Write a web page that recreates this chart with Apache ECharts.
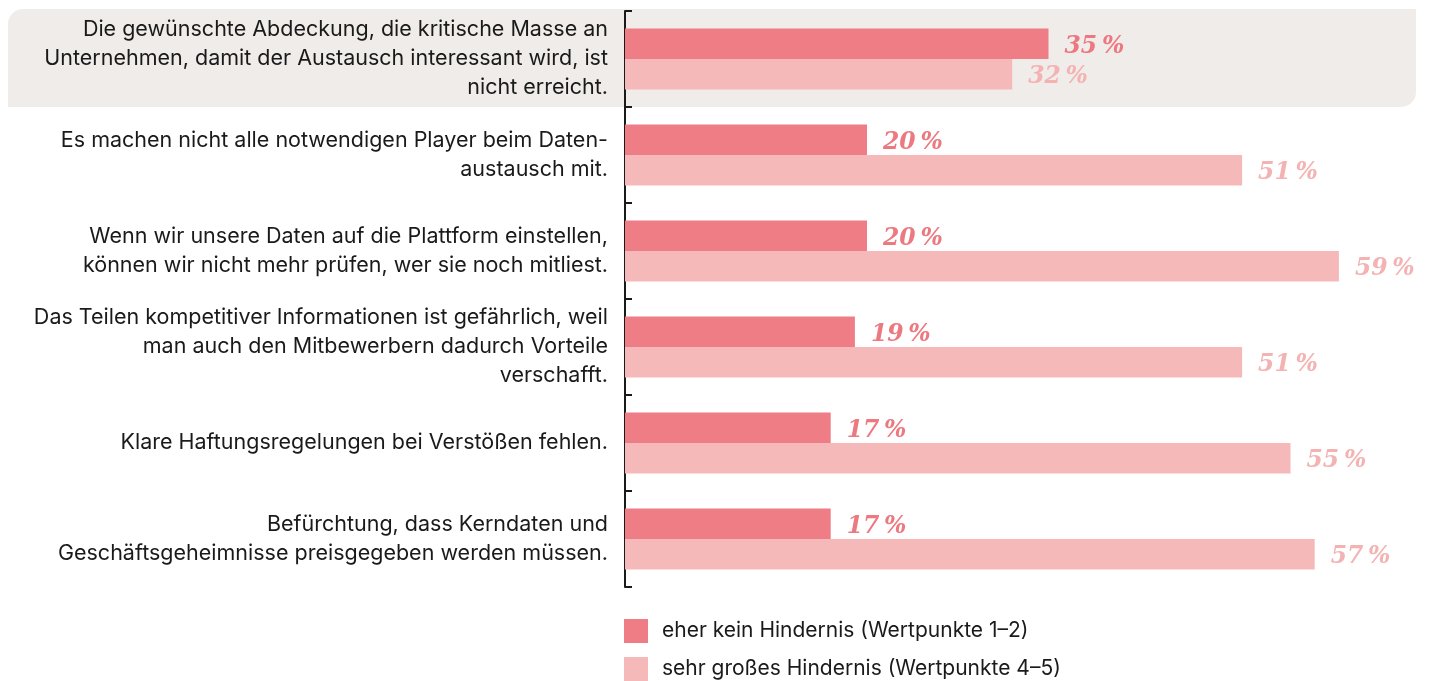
<!DOCTYPE html>
<html>
<head>
<meta charset="utf-8">
<script src="https://cdn.jsdelivr.net/npm/echarts@6/dist/echarts.min.js"></script>
<style>
  html, body { margin: 0; padding: 0; background: #fff; }
  #chart { width: 1432px; height: 681px; }
</style>
</head>
<body>
<div id="chart"></div>
<script>
// Kategorien (mit Zeilenumbrüchen wie im Original)
const categories = [
  'Die gewünschte Abdeckung, die kritische Masse an\nUnternehmen, damit der Austausch interessant wird, ist\nnicht erreicht.',
  'Es machen nicht alle notwendigen Player beim Daten-\naustausch mit.',
  'Wenn wir unsere Daten auf die Plattform einstellen,\nkönnen wir nicht mehr prüfen, wer sie noch mitliest.',
  'Das Teilen kompetitiver Informationen ist gefährlich, weil\nman auch den Mitbewerbern dadurch Vorteile\nverschafft.',
  'Klare Haftungsregelungen bei Verstößen fehlen.',
  'Befürchtung, dass Kerndaten und\nGeschäftsgeheimnisse preisgegeben werden müssen.'
];
const seriesNames = [
  'eher kein Hindernis (Wertpunkte 1–2)',
  'sehr großes Hindernis (Wertpunkte 4–5)'
];
const keinHindernis = [35, 20, 20, 19, 17, 17];
const grossesHindernis = [32, 51, 59, 51, 55, 57];

const chart = echarts.init(document.getElementById('chart'));

const labelStyle = (color) => ({
  show: true,
  position: 'right',
  distance: 16,
  offset: [0, 3],
  formatter: (p) => p.value + '\u2009%',
  fontFamily: 'DejaVu Serif',
  fontStyle: 'italic',
  fontWeight: 'bold',
  fontSize: 23.5,
  color: color
});

const option = {
  animation: false,
  backgroundColor: '#ffffff',
  textStyle: { fontFamily: 'Inter' },
  graphic: [
    {
      type: 'rect',
      z: -10,
      shape: { x: 8, y: 9, width: 1408, height: 98, r: [15, 0, 15, 0] },
      style: { fill: '#f0ece9' }
    }
  ],
  grid: { left: 625, top: 11, width: 786.5, height: 576 },
  legend: {
    orient: 'vertical',
    left: 624,
    top: 619,
    padding: 0,
    itemWidth: 24,
    itemHeight: 24,
    itemGap: 14,
    icon: 'rect',
    data: seriesNames,
    textStyle: {
      fontSize: 21,
      color: '#1a1a1a',
      fontFamily: 'Inter',
      padding: [3, 0, 0, 9]
    }
  },
  xAxis: {
    type: 'value',
    min: 0,
    max: 65,
    show: false
  },
  yAxis: {
    type: 'category',
    inverse: true,
    data: categories,
    axisLine: { show: true, lineStyle: { color: '#1a1a1a', width: 2 } },
    axisTick: { show: true, inside: true, length: 7, lineStyle: { color: '#1a1a1a', width: 2 } },
    axisLabel: {
      margin: 17,
      fontSize: 21.5,
      lineHeight: 29,
      padding: [5, 0, 0, 0],
      color: '#1a1a1a',
      align: 'right',
      fontFamily: 'Inter'
    }
  },
  series: [
    {
      name: seriesNames[0],
      type: 'bar',
      data: keinHindernis,
      barWidth: 30.5,
      barGap: '0%',
      itemStyle: { color: '#ee7d85' },
      label: labelStyle('#ec7880')
    },
    {
      name: seriesNames[1],
      type: 'bar',
      data: grossesHindernis,
      barWidth: 30.5,
      barGap: '0%',
      itemStyle: { color: '#f5b9b9' },
      label: labelStyle('#f4b3b3')
    }
  ]
};

chart.setOption(option);
</script>
</body>
</html>
